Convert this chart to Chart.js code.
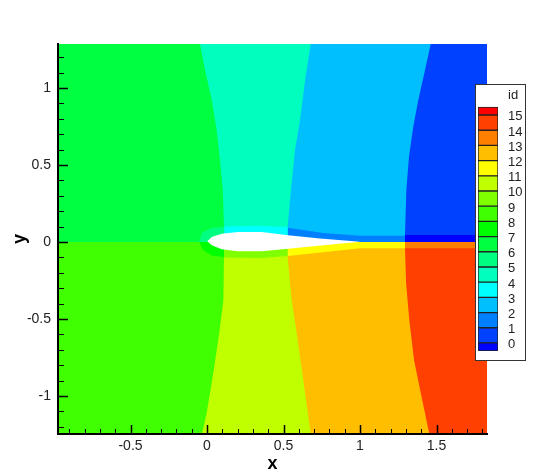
<!DOCTYPE html>
<html>
<head>
<meta charset="utf-8">
<script src="https://cdn.jsdelivr.net/npm/chart.js@4"></script>
<style>
  body { margin: 0; background: #fff; }
  #wrap { position: relative; width: 538px; height: 475px; }
  #field { position: absolute; left: 0; top: 0; }
  #key { position: absolute; left: 475px; top: 84px; width: 49px; height: 275px; border: 1px solid #333; background: #fff; }
  #keyChart { display: block; }
</style>
</head>
<body>
<div id="wrap">
  <canvas id="field" width="538" height="475"></canvas>
  <div id="key"><canvas id="keyChart" width="49" height="275"></canvas></div>
</div>
<script>
// colour map, one colour per band, from below level 0 to above level 15
const bandColors = ['#0000FF', '#0040FF', '#0080FF', '#00BFFF', '#00FFFF', '#00FFBF', '#00FF80', '#00FF40',
    '#00FF00', '#40FF00', '#80FF00', '#BFFF00', '#FFFF00', '#FFBF00', '#FF8000', '#FF4000', '#FF0000'];
const keyLevels = [0, 1, 2, 3, 4, 5, 6, 7, 8, 9, 10, 11, 12, 13, 14, 15];
const keyEdges = [-0.53, 0, 1, 2, 3, 4, 5, 6, 7, 8, 9, 10, 11, 12, 13, 14, 15, 15.53];
const keyTitle = 'id';

const xTickValues = [-0.5, 0, 0.5, 1, 1.5];
const yTickValues = [-1, -0.5, 0, 0.5, 1];

// region outlines
const upperX = [-0.974, 1.83, 1.83, -0.974];
const upperY = [0, 0, 1.286, 1.286];
const lowerX = [-0.974, 1.83, 1.83, -0.974];
const lowerY = [0, 0, -1.247, -1.247];
const tealX = [-0.046, -0.013, 0.031, 0.063, 0.085, 0.103, 0.111, 0.111, 1.83, 1.83];
const tealY = [1.286, 1.117, 0.922, 0.727, 0.532, 0.338, 0.104, 0, 0, 1.286];
const skyX = [0.678, 0.641, 0.608, 0.575, 0.549, 0.527, 0.527, 1.83, 1.83];
const skyY = [1.286, 1.052, 0.792, 0.597, 0.338, 0.099, 0, 0, 1.286];
const blueX = [1.462, 1.425, 1.381, 1.348, 1.32, 1.303, 1.294, 1.294, 1.83, 1.83];
const blueY = [1.286, 1.117, 0.922, 0.749, 0.554, 0.338, 0.045, 0, 0, 1.286];
const limeX = [0.111, 0.111, 0.107, 0.08, 0.041, -0.002, -0.033, 1.83, 1.83];
const limeY = [0, -0.095, -0.377, -0.591, -0.851, -1.11, -1.247, -1.247, 0];
const amberX = [0.527, 0.527, 0.553, 0.586, 0.629, 0.678, 1.83, 1.83];
const amberY = [0, -0.095, -0.377, -0.591, -0.896, -1.247, -1.247, 0];
const redX = [1.294, 1.294, 1.301, 1.322, 1.353, 1.397, 1.453, 1.83, 1.83];
const redY = [0, -0.039, -0.266, -0.506, -0.766, -0.981, -1.247, -1.247, 0];
const wakeTopX = [1.294, 1.83, 1.83, 1.294];
const wakeTopY = [0.045, 0.045, 0, 0];
const wakeLowX = [1.294, 1.83, 1.83, 1.294];
const wakeLowY = [0, 0, -0.041, -0.041];
const yellowX = [0.527, 1.294, 1.294, 1, 0.527];
const yellowY = [0, 0, -0.041, -0.041, -0.091];
const midBlueX = [0.527, 0.76, 1, 1.294, 1.294, 0.527];
const midBlueY = [0.093, 0.058, 0.041, 0.041, 0, 0];
const cyanX = [0.111, 0.346, 0.527, 0.527, 0.111];
const cyanY = [0.1, 0.104, 0.097, 0, 0];
const ringTopX = [-0.052, -0.033, 0.031, 0.113, 0.113];
const ringTopY = [0, 0.06, 0.091, 0.1, 0];
const ringLowX = [-0.052, -0.026, 0.031, 0.113, 0.113];
const ringLowY = [0, -0.052, -0.087, -0.097, 0];
const grassX = [0.111, 0.527, 0.527, 0.346, 0.111];
const grassY = [0, 0, -0.091, -0.104, -0.1];
const foilX = [0.002, 0.031, 0.096, 0.203, 0.358, 0.529, 0.739, 1, 0.529, 0.358, 0.203, 0.096, 0.031];
const foilY = [0.005, 0.032, 0.054, 0.065, 0.065, 0.044, 0.023, 0.002, -0.044, -0.06, -0.06, -0.047, -0.021];

// painted in this order, later ones cover earlier ones
const regions = [
    [upperX, upperY, bandColors[7]],
    [tealX, tealY, bandColors[5]],
    [skyX, skyY, bandColors[3]],
    [blueX, blueY, bandColors[1]],
    [lowerX, lowerY, bandColors[9]],
    [limeX, limeY, bandColors[11]],
    [amberX, amberY, bandColors[13]],
    [redX, redY, bandColors[15]],
    [wakeTopX, wakeTopY, bandColors[0]],
    [wakeLowX, wakeLowY, bandColors[14]],
    [yellowX, yellowY, bandColors[12]],
    [midBlueX, midBlueY, bandColors[2]],
    [cyanX, cyanY, bandColors[4]],
    [ringTopX, ringTopY, bandColors[6]],
    [ringLowX, ringLowY, bandColors[8]],
    [grassX, grassY, bandColors[10]],
    [foilX, foilY, '#FFFFFF']
];

const regionSets = regions.map(function (r, i) {
    return {
        data: r[0].map((x, k) => ({ x: x, y: r[1][k] })),
        showLine: true,
        fill: 'shape',
        backgroundColor: r[2],
        borderWidth: 0,
        pointRadius: 0,
        tension: 0,
        order: regions.length - i
    };
});

// tecplot style ticks, pointing into the plot
const inwardTicks = {
    id: 'inwardTicks',
    afterDatasetsDraw(chart) {
        const c = chart.ctx;
        const a = chart.chartArea;
        const xs = chart.scales.x;
        const ys = chart.scales.y;
        c.save();
        c.strokeStyle = '#000';
        for (let n = Math.ceil(xs.min * 10); n <= xs.max * 10; n++) {
            const major = n % 5 === 0;
            const p = Math.round(xs.getPixelForValue(n / 10)) + 0.5;
            c.lineWidth = major ? 1.5 : 1;
            c.beginPath();
            c.moveTo(p, a.bottom);
            c.lineTo(p, a.bottom - (major ? 9 : 5));
            c.stroke();
        }
        for (let n = Math.ceil(ys.min * 10); n <= ys.max * 10; n++) {
            const major = n % 5 === 0;
            const p = Math.round(ys.getPixelForValue(n / 10)) + 0.5;
            c.lineWidth = major ? 1.5 : 1;
            c.beginPath();
            c.moveTo(a.left, p);
            c.lineTo(a.left + (major ? 10 : 6), p);
            c.stroke();
        }
        c.restore();
    }
};

const axisFont = { family: 'Liberation Sans', size: 14 };
const titleFont = { family: 'Liberation Sans', size: 18, weight: 'bold' };

new Chart(document.getElementById('field').getContext('2d'), {
    type: 'scatter',
    data: { datasets: regionSets },
    plugins: [inwardTicks],
    options: {
        responsive: false,
        animation: false,
        layout: { padding: { left: 0, top: 44, right: 51, bottom: 0 } },
        plugins: { legend: { display: false }, tooltip: { enabled: false } },
        scales: {
            x: {
                type: 'linear',
                min: -0.974,
                max: 1.83,
                afterBuildTicks: s => { s.ticks = xTickValues.map(v => ({ value: v })); },
                afterFit: s => { s.height = 41; },
                grid: { drawOnChartArea: false, drawTicks: false },
                border: { color: '#000', width: 2, z: 1 },
                ticks: { font: axisFont, color: '#222', padding: 4, maxRotation: 0, autoSkip: false, callback: v => String(v) },
                title: { display: true, text: 'x', font: titleFont, color: '#000', padding: { top: 0, bottom: 0 } }
            },
            y: {
                type: 'linear',
                min: -1.247,
                max: 1.286,
                afterBuildTicks: s => { s.ticks = yTickValues.map(v => ({ value: v })); },
                afterFit: s => { s.width = 58; },
                grid: { drawOnChartArea: false, drawTicks: false },
                border: { color: '#000', width: 2, z: 1 },
                ticks: { font: axisFont, color: '#222', padding: 7, autoSkip: false, callback: v => String(v) },
                title: { display: true, text: 'y', font: titleFont, color: '#000', padding: { top: 9, bottom: 0 } }
            }
        }
    }
});

// colour key, the top tick carries the key's title
// labels sit a little under the band edge they name, so ticks are shifted down a bit
const keyTitleLevel = 16.3;
const keyLabelShift = 0.12;
const keySets = bandColors.map((col, i) => ({
    data: [[keyEdges[i], keyEdges[i + 1]]],
    backgroundColor: col,
    borderColor: '#222',
    borderWidth: 1,
    borderSkipped: false,
    barPercentage: 1,
    categoryPercentage: 1
}));

new Chart(document.getElementById('keyChart').getContext('2d'), {
    type: 'bar',
    data: { labels: [keyTitle], datasets: keySets },
    options: {
        responsive: false,
        animation: false,
        datasets: { bar: { grouped: false } },
        layout: { padding: { left: 2, top: 1, right: 0, bottom: 9 } },
        plugins: { legend: { display: false }, tooltip: { enabled: false } },
        scales: {
            x: { display: false },
            y: {
                position: 'right',
                min: keyEdges[0],
                max: 16.91,
                afterBuildTicks: s => { s.ticks = keyLevels.map(v => v - keyLabelShift).concat(keyTitleLevel).map(v => ({ value: v })); },
                afterFit: s => { s.width = 27; s.paddingTop = 0; s.paddingBottom = 0; },
                grid: { display: false, drawTicks: false },
                border: { display: false },
                ticks: { font: { family: 'Liberation Sans', size: 13 }, color: '#222', padding: 10, autoSkip: false,
                    callback: v => (v === keyTitleLevel ? keyTitle : String(Math.round(v))) }
            }
        }
    }
});
</script>
</body>
</html>
